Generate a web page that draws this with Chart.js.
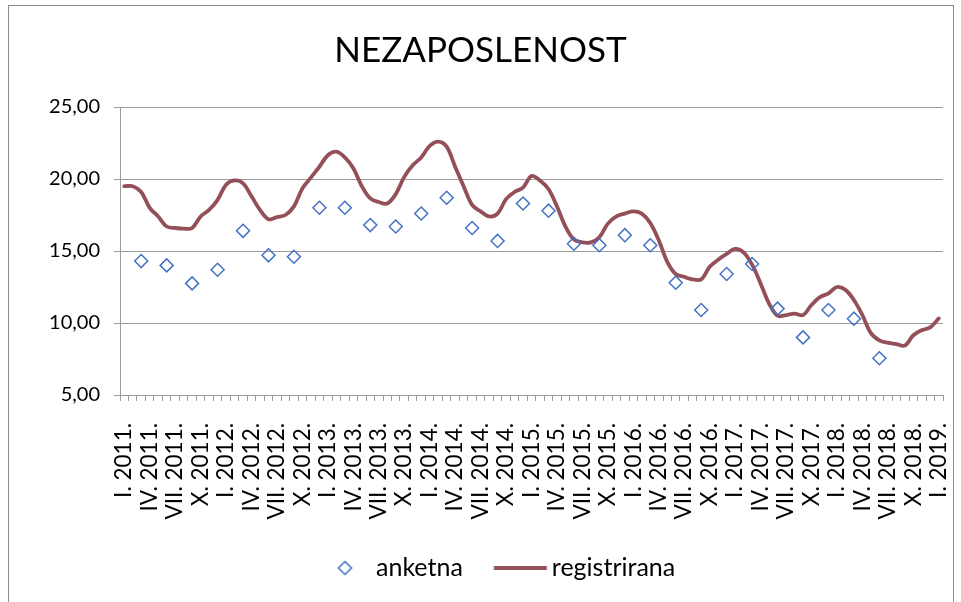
<!DOCTYPE html>
<html><head><meta charset="utf-8">
<script src="https://cdn.jsdelivr.net/npm/chart.js@4.4.1/dist/chart.umd.min.js"></script>
<style>
html,body{margin:0;padding:0;background:#fff;}
#wrap{position:absolute;left:0;top:0;width:961px;height:602px;overflow:hidden;}
#frame{position:absolute;left:8px;top:5px;width:946px;height:640px;border:1px solid #8c8c8c;box-sizing:border-box;pointer-events:none;}
canvas{position:absolute;left:0;top:0;}
</style></head>
<body><div id="wrap"><canvas id="c" width="961" height="602"></canvas><div id="frame"></div></div>
<script>
// ---- data ----
const romanMonths = ['I.','II.','III.','IV.','V.','VI.','VII.','VIII.','IX.','X.','XI.','XII.'];
const years = [2011,2012,2013,2014,2015,2016,2017,2018,2019];
const tickLabels = [
 'I. 2011.','IV. 2011.','VII. 2011.','X. 2011.',
 'I. 2012.','IV. 2012.','VII. 2012.','X. 2012.',
 'I. 2013.','IV. 2013.','VII. 2013.','X. 2013.',
 'I. 2014.','IV. 2014.','VII. 2014.','X. 2014.',
 'I. 2015.','IV. 2015.','VII. 2015.','X. 2015.',
 'I. 2016.','IV. 2016.','VII. 2016.','X. 2016.',
 'I. 2017.','IV. 2017.','VII. 2017.','X. 2017.',
 'I. 2018.','IV. 2018.','VII. 2018.','X. 2018.',
 'I. 2019.'
];
// registered unemployment, monthly I.2011 - I.2019
const registrirana = [
 19.5,19.5,19.1,18.0,17.4,16.7,16.6,16.55,16.6,17.4,17.85,18.55,
 19.6,19.9,19.7,18.8,17.85,17.2,17.35,17.5,18.1,19.35,20.1,20.85,
 21.65,21.9,21.5,20.75,19.5,18.65,18.4,18.3,18.95,20.15,20.95,21.5,
 22.3,22.6,22.25,20.85,19.5,18.2,17.75,17.4,17.6,18.6,19.1,19.4,
 20.2,19.9,19.3,18.1,16.7,15.8,15.6,15.6,15.95,16.9,17.4,17.6,
 17.75,17.6,16.95,15.75,14.25,13.4,13.2,13.03,13.03,13.9,14.4,14.8,
 15.15,14.9,14.05,12.75,11.35,10.5,10.55,10.65,10.55,11.25,11.8,12.05,
 12.5,12.3,11.6,10.55,9.3,8.8,8.63,8.54,8.43,9.15,9.5,9.7,
 10.32
];
// survey unemployment, quarterly (III., VI., IX., XII. of each year)
const anketna = [
 14.3,14.0,12.75,13.7,
 16.4,14.7,14.6,18.0,
 18.0,16.8,16.7,17.6,
 18.7,16.6,15.7,18.3,
 17.8,15.5,15.4,16.1,
 15.4,12.8,10.9,13.4,
 14.1,11.0,9.0,10.9,
 10.3,7.55
];
const seriesNames = ['anketna','registrirana'];
const yTicks = {min:5, max:25, step:5};

// ---- build ----
const categories = [];
years.forEach(y => romanMonths.forEach(m => { if (categories.length < registrirana.length) categories.push(m + ' ' + y + '.'); }));
const anketnaMonthly = categories.map((c, i) => (i % 3 === 2 && anketna[(i - 2) / 3] !== undefined) ? anketna[(i - 2) / 3] : null);

const FONT = 'Lato';
const blue = '#4472C4';
const red = '#935058';
const gridC = '#9c9c9c';

function mkImg(draw){ const cv=document.createElement('canvas'); cv.width=75; cv.height=20; const g=cv.getContext('2d'); draw(g); return cv; }
const diamondImg = mkImg(g => { g.strokeStyle=blue; g.lineWidth=1.5; g.beginPath(); g.moveTo(46.5,3.5); g.lineTo(53,10); g.lineTo(46.5,16.5); g.lineTo(40,10); g.closePath(); g.stroke(); });
const lineImg = mkImg(g => { g.strokeStyle=red; g.lineWidth=4; g.beginPath(); g.moveTo(19.5,10); g.lineTo(72.5,10); g.stroke(); });

const LEGEND_START = 308.5;
const TITLE_SHIFT = 9;
const boxShift = { id:'boxShift', afterLayout(chart){
  const l = chart.legend;
  if (l) {
    const pad = l.options.labels.padding;
    const cur = (l.left + pad + l.right - l.lineWidths[0]) / 2;
    const d = LEGEND_START - cur; l.left += d; l.right += d;
  }
  const t = chart.titleBlock;
  if (t) { t.left += TITLE_SHIFT; t.right += TITLE_SHIFT; }
} };

new Chart(document.getElementById('c'), {
  type: 'line',
  data: {
    labels: categories,
    datasets: [
      { label: seriesNames[0], data: anketnaMonthly, showLine:false, pointStyle:'rectRot', pointRadius:6.5, pointHoverRadius:6.5,
        pointBorderColor: blue, pointBackgroundColor:'rgba(255,255,255,0)', pointBorderWidth:1.5, borderColor: blue },
      { label: seriesNames[1], data: registrirana, borderColor: red, borderWidth: 3.8, pointRadius:0, tension:0.35, fill:false,
        borderCapStyle:'round', borderJoinStyle:'round' }
    ]
  },
  options: {
    responsive:false, animation:false, devicePixelRatio:1,
    layout:{ padding:{ left:0, right:18, top:0, bottom:11.5 } },
    plugins:{
      tooltip:{enabled:false},
      title:{ display:true, text:'NEZAPOSLENOST', color:'#000', font:{family:FONT, size:35, weight:'normal'}, padding:{top:30, bottom:107-30-42} },
      legend:{ position:'bottom', labels:{ color:'#000', font:{family:FONT, size:25}, usePointStyle:true, pointStyleWidth:55, padding:21.5,
        generateLabels(chart){ const items = Chart.defaults.plugins.legend.labels.generateLabels(chart); items[0].pointStyle = diamondImg; items[1].pointStyle = lineImg; return items; } } }
    },
    scales:{
      x:{ offset:true,
        grid:{ offset:true, drawOnChartArea:false, drawTicks:true, tickLength:6, color:gridC },
        border:{ display:true, color:gridC },
        ticks:{ autoSkip:false, maxRotation:90, minRotation:90, color:'#000', font:{family:FONT, size:22.5}, padding:22,
          callback:(v,i) => i % 3 === 0 ? tickLabels[i/3] : '' },
        afterFit(s){ s.height = 139; s.paddingLeft = 0; s.paddingRight = 0; } },
      y:{ min:yTicks.min, max:yTicks.max,
        grid:{ color:gridC, tickLength:6 },
        border:{ display:true, color:gridC },
        ticks:{ stepSize:yTicks.step, color:'#000', font:{family:FONT, size:20}, padding:14,
          callback:v => v.toFixed(2).replace('.', ',') },
        afterFit(s){ s.width = 120; } }
    }
  },
  plugins:[boxShift]
});
</script>
</body></html>
